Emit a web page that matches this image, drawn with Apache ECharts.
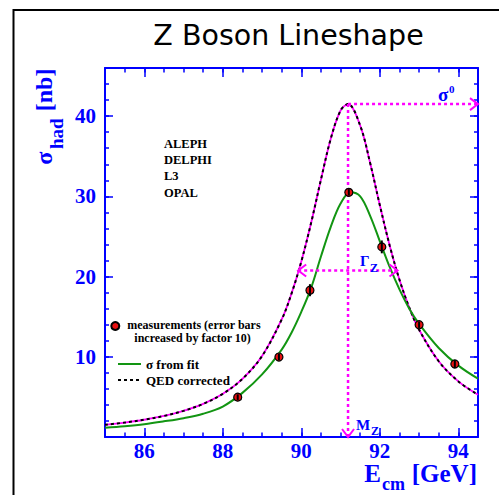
<!DOCTYPE html>
<html>
<head>
<meta charset="utf-8">
<script src="https://cdn.jsdelivr.net/npm/echarts@6/dist/echarts.min.js"></script>
<style>html,body{margin:0;padding:0;background:#fff;}#chart{width:499px;height:495px;}</style>
</head>
<body>
<div id="chart"></div>
<script>
// ---- data ----
const fitEnergy = [85, 85.5, 86, 86.5, 87, 87.5, 88, 88.5, 89, 89.5, 89.75, 90, 90.25, 90.5, 90.75, 91, 91.25, 91.5, 91.75, 92, 92.25, 92.5, 92.75, 93, 93.5, 94, 94.5];
const fitSigma  = [1.16, 1.35, 1.6, 1.95, 2.35, 2.9, 3.8, 5.5, 7.8, 10.9, 13.0, 15.6, 18.6, 22.5, 26.2, 29.1, 30.5, 30.0, 27.6, 24.4, 21.2, 18.4, 16.0, 14.1, 11.1, 8.9, 7.27];
const qedEnergy = [85, 85.5, 86, 86.5, 87, 87.5, 88, 88.5, 89, 89.5, 89.75, 90, 90.25, 90.5, 90.75, 91, 91.19, 91.5, 91.75, 92, 92.25, 92.5, 92.75, 93, 93.5, 94, 94.5];
const qedSigma  = [1.52, 1.80, 2.15, 2.62, 3.26, 4.13, 5.38, 7.24, 10.09, 14.65, 17.87, 21.88, 26.7, 32.08, 37.19, 40.7, 41.5, 38.82, 34.21, 28.89, 23.88, 19.6, 16.13, 13.37, 9.44, 6.93, 5.27];
const measEnergy = [88.38, 89.43, 90.22, 91.21, 92.05, 93.0, 93.91];
const measSigma  = [4.97, 9.97, 18.3, 30.5, 23.7, 14.0, 9.1];
const measError  = [0.35, 0.4, 0.75, 0.4, 0.8, 0.4, 0.5];   // error bars x10
const xTickLabels = [86, 88, 90, 92, 94];
const yTickLabels = [10, 20, 30, 40];
const experiments = ['ALEPH', 'DELPHI', 'L3', 'OPAL'];
// annotation arrows: M_Z / sigma0 / Gamma_Z
const arrowX1 = [91.19, 91.19, 89.92];
const arrowY1 = [41.5, 41.5, 20.75];
const arrowX2 = [91.19, 94.5, 92.45];
const arrowY2 = [0, 41.5, 20.75];
const arrowBoth = [0, 0, 1];

// ---- styling ----
const BLUE = '#0000ff';
const MAG = '#ff00ff';
const SERIF = '"Liberation Serif", "DejaVu Serif", serif';

const chart = echarts.init(document.getElementById('chart'), null, { renderer: 'svg' });

function axisBase(extra) {
  return Object.assign({
    type: 'value',
    axisLine: { show: false, onZero: false },
    axisTick: { show: false },
    axisLabel: { show: false },
    splitLine: { show: false },
    minorTick: { show: false }
  }, extra);
}
const majorLine = { show: true, onZero: false, lineStyle: { color: BLUE, width: 2 } };
const tickStyle = { color: BLUE, width: 1.5 };
const labelStyle = { show: true, color: BLUE, fontFamily: SERIF, fontWeight: 'bold', fontSize: 21 };

const xAxes = [
  axisBase({ gridIndex: 0, position: 'bottom', min: 85, max: 94.5, axisLine: majorLine,
    axisTick: { show: true, inside: true, length: 9, customValues: xTickLabels, lineStyle: tickStyle },
    axisLabel: Object.assign({ customValues: xTickLabels, margin: 3 }, labelStyle) }),
  axisBase({ gridIndex: 0, position: 'top', min: 85, max: 94.5, axisLine: majorLine,
    axisTick: { show: true, inside: true, length: 9, customValues: xTickLabels, lineStyle: tickStyle } }),
  axisBase({ gridIndex: 1, position: 'bottom', min: 85, max: 94.5, interval: 0.5,
    axisTick: { show: true, inside: true, length: 4.5, lineStyle: tickStyle } }),
  axisBase({ gridIndex: 1, position: 'top', min: 85, max: 94.5, interval: 0.5,
    axisTick: { show: true, inside: true, length: 4.5, lineStyle: tickStyle } })
];
const yAxes = [
  axisBase({ gridIndex: 0, position: 'left', min: 0, max: 46, axisLine: majorLine,
    axisTick: { show: true, inside: true, length: 8, customValues: [0].concat(yTickLabels), lineStyle: tickStyle },
    axisLabel: Object.assign({ customValues: yTickLabels, margin: 9 }, labelStyle) }),
  axisBase({ gridIndex: 0, position: 'right', min: 0, max: 46, axisLine: majorLine,
    axisTick: { show: true, inside: true, length: 8, customValues: [0].concat(yTickLabels), lineStyle: tickStyle } }),
  axisBase({ gridIndex: 1, position: 'left', min: 0, max: 46, interval: 2,
    axisTick: { show: true, inside: true, length: 4, lineStyle: tickStyle } }),
  axisBase({ gridIndex: 1, position: 'right', min: 0, max: 46, interval: 2,
    axisTick: { show: true, inside: true, length: 4, lineStyle: tickStyle } })
];

function zip(a, b) { return a.map((v, i) => [v, b[i]]); }

function renderArrow(params, api) {
  const a = api.coord([api.value(0), api.value(1)]);
  const b = api.coord([api.value(2), api.value(3)]);
  const both = api.value(4) === 1;
  const head = (tip, from) => {
    const dx = tip[0] - from[0], dy = tip[1] - from[1];
    const len = Math.hypot(dx, dy) || 1;
    const ux = dx / len, uy = dy / len, L = 8, W = 6;
    return { type: 'polyline',
      shape: { points: [[tip[0] - ux * L - uy * W, tip[1] - uy * L + ux * W], [tip[0], tip[1]], [tip[0] - ux * L + uy * W, tip[1] - uy * L - ux * W]] },
      style: { stroke: MAG, lineWidth: 2, fill: 'none' } };
  };
  const children = [{ type: 'line', shape: { x1: a[0], y1: a[1], x2: b[0], y2: b[1] },
    style: { stroke: MAG, lineWidth: 2.5, lineDash: [3, 3] } }, head(b, a)];
  if (both) children.push(head(a, b));
  return { type: 'group', children: children };
}

function renderErr(params, api) {
  const t = api.coord([api.value(0), api.value(1) + api.value(2)]);
  const b = api.coord([api.value(0), api.value(1) - api.value(2)]);
  return { type: 'line', shape: { x1: t[0], y1: t[1], x2: b[0], y2: b[1] }, style: { stroke: '#000', lineWidth: 2 } };
}

function txt(x, y, text, size, color, align, rot) {
  return { type: 'text', x: x, y: y, z: 10, rotation: rot || 0,
    style: { text: text, fill: color, font: 'bold ' + size + 'px ' + SERIF, align: align || 'left', verticalAlign: 'middle' } };
}
const ROT = Math.PI / 2;
const graphics = [
  { type: 'rect', shape: { x: 13.5, y: 10, width: 600, height: 600 }, style: { fill: 'none', stroke: '#000', lineWidth: 2 }, z: 0 },
  // x axis title
  txt(381, 473.7, 'E', 25, BLUE, 'right'),
  txt(382, 484.2, 'cm', 18, BLUE),
  txt(477, 473.7, '[GeV]', 25, BLUE, 'right'),
  // y axis title (rotated)
  txt(44, 164.7, 'σ', 24, BLUE, 'left', ROT),
  txt(56, 149, 'had', 19, BLUE, 'left', ROT),
  txt(44, 111.3, '[nb]', 24, BLUE, 'left', ROT),
  // annotation labels
  txt(438, 94, 'σ', 19, BLUE),
  txt(449, 88.5, '0', 11, BLUE),
  txt(360, 261, 'Γ', 15, BLUE),
  txt(370, 268, 'Z', 12, BLUE),
  txt(356, 425, 'M', 15, BLUE),
  txt(371, 431, 'Z', 12, BLUE)
];
const expBaselines = [147.7, 164.3, 179.7, 197.3];
experiments.forEach((name, i) => graphics.push(txt(164, expBaselines[i] - 4, name, 12.5, '#000')));

const option = {
  animation: false,
  backgroundColor: '#fff',
  title: {
    text: 'Z Boson Lineshape', left: 288.5, top: 21, padding: 0, textAlign: 'center',
    textStyle: { fontFamily: '"DejaVu Sans", sans-serif', fontWeight: 'normal', fontSize: 28.5, color: '#000' }
  },
  grid: [
    { left: 105, top: 68, right: 21, bottom: 58, containLabel: false, outerBoundsMode: 'none' },
    { left: 105, top: 68, right: 21, bottom: 58, containLabel: false, outerBoundsMode: 'none' }
  ],
  xAxis: xAxes,
  yAxis: yAxes,
  legend: [
    { data: ['measurements'], orient: 'vertical', left: 110.3, top: 319, padding: 0, selectedMode: false,
      itemWidth: 14, itemHeight: 8, icon: 'circle',
      formatter: () => '{a|measurements (error bars}\n{b|increased by factor 10)}',
      textStyle: { color: '#000', fontFamily: SERIF, fontWeight: 'bold', fontSize: 12, padding: [11, 0, 0, 0],
        rich: { a: { fontFamily: SERIF, fontWeight: 'bold', fontSize: 12, lineHeight: 13, color: '#000' },
                b: { fontFamily: SERIF, fontWeight: 'bold', fontSize: 12, lineHeight: 13, color: '#000', padding: [0, 0, 0, 7] } } } },
    { data: ['σ from fit', 'QED corrected'], orient: 'vertical', left: 117, top: 357, padding: 0, itemGap: 2,
      selectedMode: false, itemWidth: 23, itemHeight: 14, itemStyle: { opacity: 0 },
      textStyle: { color: '#000', fontFamily: SERIF, fontWeight: 'bold', fontSize: 13, lineHeight: 14 } }
  ],
  graphic: graphics,
  series: [
    { name: 'QED underlay', type: 'line', xAxisIndex: 0, yAxisIndex: 0, data: zip(qedEnergy, qedSigma), smooth: 0.35,
      symbol: 'none', lineStyle: { color: MAG, width: 1.8 }, z: 2, silent: true },
    { name: 'QED corrected', type: 'line', xAxisIndex: 0, yAxisIndex: 0, data: zip(qedEnergy, qedSigma), smooth: 0.35,
      symbol: 'none', lineStyle: { color: '#000', width: 2, type: [3, 3] }, itemStyle: { color: '#000' }, z: 3 },
    { name: 'σ from fit', type: 'line', xAxisIndex: 0, yAxisIndex: 0, data: zip(fitEnergy, fitSigma), smooth: 0.35,
      symbol: 'none', lineStyle: { color: '#129512', width: 2 }, itemStyle: { color: '#129512' }, z: 3 },
    { name: 'arrows', type: 'custom', xAxisIndex: 0, yAxisIndex: 0, renderItem: renderArrow, z: 4, silent: true,
      encode: { x: [0, 2], y: [1, 3] },
      data: arrowX1.map((x, i) => [x, arrowY1[i], arrowX2[i], arrowY2[i], arrowBoth[i]]) },
    { name: 'measurements', type: 'scatter', xAxisIndex: 0, yAxisIndex: 0, data: zip(measEnergy, measSigma),
      symbol: 'circle', symbolSize: 8, itemStyle: { color: '#e81010', borderColor: '#000', borderWidth: 1.2, opacity: 1 }, z: 5 },
    { name: 'error bars', type: 'custom', xAxisIndex: 0, yAxisIndex: 0, renderItem: renderErr, z: 6, silent: true,
      encode: { x: 0, y: 1 },
      data: measEnergy.map((x, i) => [x, measSigma[i], measError[i]]) }
  ]
};
chart.setOption(option);
</script>
</body>
</html>
